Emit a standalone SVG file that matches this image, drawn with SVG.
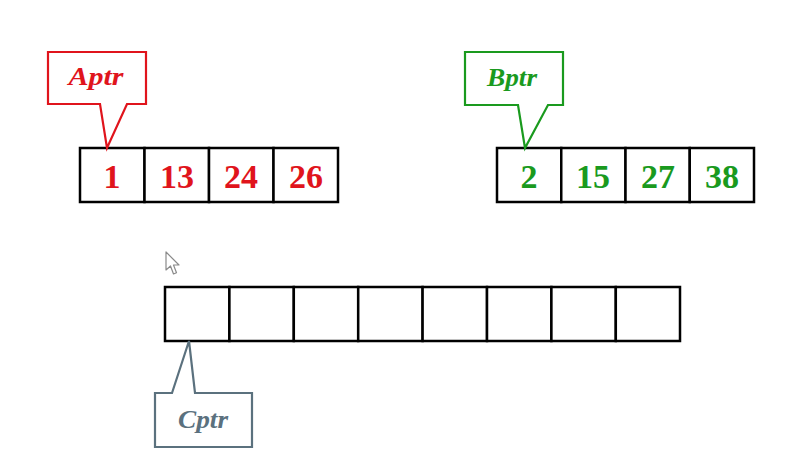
<svg xmlns="http://www.w3.org/2000/svg" width="800" height="464" viewBox="0 0 800 464">
<style>
.cell{fill:#fff;stroke:#000;stroke-width:2.5}
.num{font-family:"Liberation Serif","Times New Roman",serif;font-weight:bold;font-size:34px;text-anchor:middle}
.lbl{font-family:"Liberation Serif","Times New Roman",serif;font-weight:bold;font-style:italic;font-size:26px;text-anchor:middle}
.call{fill:#fff;stroke-width:2.2;stroke-linejoin:miter}
</style>
<rect width="800" height="464" fill="#fff"/>
<g id="arrayA">
<rect class="cell" x="80" y="148" width="64.5" height="54"/>
<rect class="cell" x="144.5" y="148" width="64.5" height="54"/>
<rect class="cell" x="209" y="148" width="64.5" height="54"/>
<rect class="cell" x="273.5" y="148" width="64.5" height="54"/>
<g class="num" fill="#e0141c">
<text x="112" y="188">1</text>
<text x="177" y="188">13</text>
<text x="241" y="188">24</text>
<text x="306" y="188">26</text>
</g>
</g>
<g id="arrayB">
<rect class="cell" x="497" y="148" width="64.25" height="54"/>
<rect class="cell" x="561.25" y="148" width="64.25" height="54"/>
<rect class="cell" x="625.5" y="148" width="64.25" height="54"/>
<rect class="cell" x="689.75" y="148" width="64.25" height="54"/>
<g class="num" fill="#1a9a1e">
<text x="529" y="188">2</text>
<text x="593" y="188">15</text>
<text x="658" y="188">27</text>
<text x="722" y="188">38</text>
</g>
</g>
<g id="arrayC">
<rect class="cell" x="165" y="287" width="64.4" height="54"/>
<rect class="cell" x="229.4" y="287" width="64.4" height="54"/>
<rect class="cell" x="293.8" y="287" width="64.4" height="54"/>
<rect class="cell" x="358.2" y="287" width="64.4" height="54"/>
<rect class="cell" x="422.6" y="287" width="64.4" height="54"/>
<rect class="cell" x="487" y="287" width="64.4" height="54"/>
<rect class="cell" x="551.4" y="287" width="64.4" height="54"/>
<rect class="cell" x="615.8" y="287" width="64.2" height="54"/>
</g>
<g id="Aptr">
<path class="call" stroke="#e0141c" d="M48,52 H146 V104 H127 L107,148 L100,104 H48 Z"/>
<text class="lbl" fill="#e0141c" x="96" y="85" textLength="55" lengthAdjust="spacingAndGlyphs">Aptr</text>
</g>
<g id="Bptr">
<path class="call" stroke="#1a9a1e" d="M465,52 H563 V105 H548 L525,148 L518,105 H465 Z"/>
<text class="lbl" fill="#1a9a1e" x="512" y="86" textLength="50" lengthAdjust="spacingAndGlyphs">Bptr</text>
</g>
<g id="Cptr">
<path class="call" stroke="#5b717e" d="M155,393 H172 L189,341 L195,393 H252 V447 H155 Z"/>
<text class="lbl" fill="#5b717e" x="203" y="428" textLength="50" lengthAdjust="spacingAndGlyphs">Cptr</text>
</g>
<g id="cursor">
<path d="M166,252 V270 L170.5,266 L173.5,274 L176.5,272.8 L173.5,265 L179,265 Z" fill="#fff" stroke="#8a8a8a" stroke-width="1.2" stroke-linejoin="round"/>
</g>
</svg>
